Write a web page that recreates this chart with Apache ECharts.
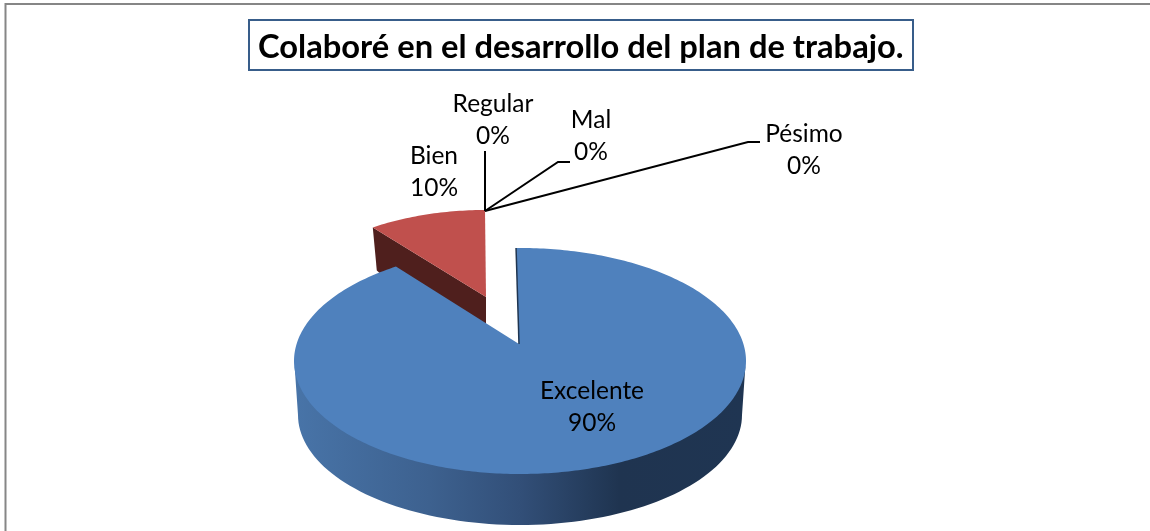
<!DOCTYPE html>
<html>
<head>
<meta charset="utf-8">
<style>html,body{margin:0;padding:0;background:#fff}#c{width:1150px;height:531px}</style>
<script src="https://cdn.jsdelivr.net/npm/echarts@6/dist/echarts.min.js"></script>
</head>
<body>
<div id="c"></div>
<script>
var titleText = 'Colaboré en el desarrollo del plan de trabajo.';
var categories = ['Excelente', 'Bien', 'Regular', 'Mal', 'Pésimo'];
var shares = [90, 10, 0, 0, 0];

var FONT = 'Lato, "Open Sans", sans-serif';
var total = shares.reduce(function (a, b) { return a + b; }, 0);
var K = 0.87; // perspective warp of the angles

// view settings for each slice
var views = [
  { fill: '#4f81bd', wall: '#1f3550', cx: 520, cy: 361, rx: 226, ry: 113, ax: 519, ay: 344, rot: -1,
    labelX: 592, labelY: 407 },
  { fill: '#c0504d', wall: '#4f1f1d', cx: 485, cy: 323, rx: 210, ry: 113, ax: 486, ay: 297, rot: 0,
    labelX: 434, labelY: 172 },
  { labelX: 493, labelY: 120, leader: [[485, 211], [485, 151]] },
  { labelX: 591, labelY: 136, leader: [[485, 211], [558, 162], [570, 162]] },
  { labelX: 804, labelY: 150, leader: [[485, 211], [748, 142], [760, 142]] }
];
var WALL_DEPTH = 43;
var baseEllipse = { cx: 520, cy: 415, rx: 222, ry: 110 };

function pt(v, deg) {
  var t = deg * Math.PI / 180;
  var p = Math.atan2(Math.sin(t) * K, Math.cos(t)) + (v.rot || 0) * Math.PI / 180;
  return [v.cx + v.rx * Math.sin(p), v.cy - v.ry * Math.cos(p)];
}
function raw(e, deg, dy) {
  var p = deg * Math.PI / 180;
  return [e.cx + e.rx * Math.sin(p), e.cy - e.ry * Math.cos(p) - (dy || 0)];
}

function renderItem(params, api) {
  var i = params.dataIndex;
  var v = views[i];
  var value = api.value(0);
  var before = shares.slice(0, i).reduce(function (a, b) { return a + b; }, 0);
  var a0 = before / total * 360, a1 = (before + value) / total * 360;
  var pct = Math.round(value / total * 100) + '%';
  var children = [];
  var base = i === 0 ? 20 : 10;

  if (value > 0) {
    var pts = [[v.ax, v.ay]];
    for (var d = a0; d <= a1 + 1e-6; d += 1) pts.push(pt(v, d));
    var first = pt(v, a0);
    if (i === 0) {
      var side = [];
      for (var s = 90; s <= 270; s += 2) side.push(raw(v, s, 4));
      for (s = 270; s >= 90; s -= 2) side.push(raw(baseEllipse, s));
      children.push({
        type: 'polygon', z2: base, shape: { points: side },
        style: {
          fill: new echarts.graphic.LinearGradient(0, 0, 1, 0, [
            { offset: 0, color: '#4874a8' }, { offset: 0.3, color: '#3d618f' },
            { offset: 0.5, color: '#324f78' }, { offset: 0.72, color: '#1f3450' },
            { offset: 1, color: '#1f3552' }
          ])
        }
      });
      children.push({
        type: 'polyline', z2: base + 2,
        shape: { points: [first, [v.ax, v.ay]] },
        style: { stroke: v.wall, lineWidth: 1.5, fill: null }
      });
    } else {
      children.push({
        type: 'polygon', z2: base,
        shape: { points: [first, [v.ax, v.ay], [v.ax, v.ay + WALL_DEPTH],
                          [first[0] + 28, first[1] + 64], [first[0] + 4, first[1] + WALL_DEPTH]] },
        style: { fill: v.wall }
      });
    }
    children.push({ type: 'polygon', z2: base + 1, shape: { points: pts }, style: { fill: v.fill } });
  }
  if (v.leader) {
    children.push({
      type: 'polyline', z2: 40, shape: { points: v.leader },
      style: { stroke: '#000', lineWidth: 2, fill: null }
    });
  }
  children.push({
    type: 'text', z2: 50,
    style: {
      text: categories[i] + '\n' + pct,
      x: v.labelX, y: v.labelY,
      fill: '#000', font: '24.5px ' + FONT,
      lineHeight: 32.5, align: 'center', verticalAlign: 'middle'
    }
  });
  return { type: 'group', children: children };
}

var chart = echarts.init(document.getElementById('c'), null, { renderer: 'canvas' });
chart.setOption({
  animation: false,
  backgroundColor: '#ffffff',
  title: {
    text: titleText,
    left: 249, top: 20,
    padding: [9, 10, 5, 9],
    borderColor: '#385d8a', borderWidth: 2, backgroundColor: '#fff',
    textStyle: { fontFamily: FONT, fontSize: 32.7, fontWeight: 'bold', color: '#000', lineHeight: 36 }
  },
  graphic: [{
    type: 'polyline', silent: true,
    shape: { points: [[5.5, 531], [5.5, 4], [1150, 4]] },
    style: { stroke: '#868686', lineWidth: 2, fill: null }
  }],
  series: [{
    type: 'custom',
    coordinateSystem: 'none',
    silent: true,
    renderItem: renderItem,
    data: shares.map(function (s, i) { return { name: categories[i], value: [s] }; })
  }]
});
</script>
</body>
</html>
